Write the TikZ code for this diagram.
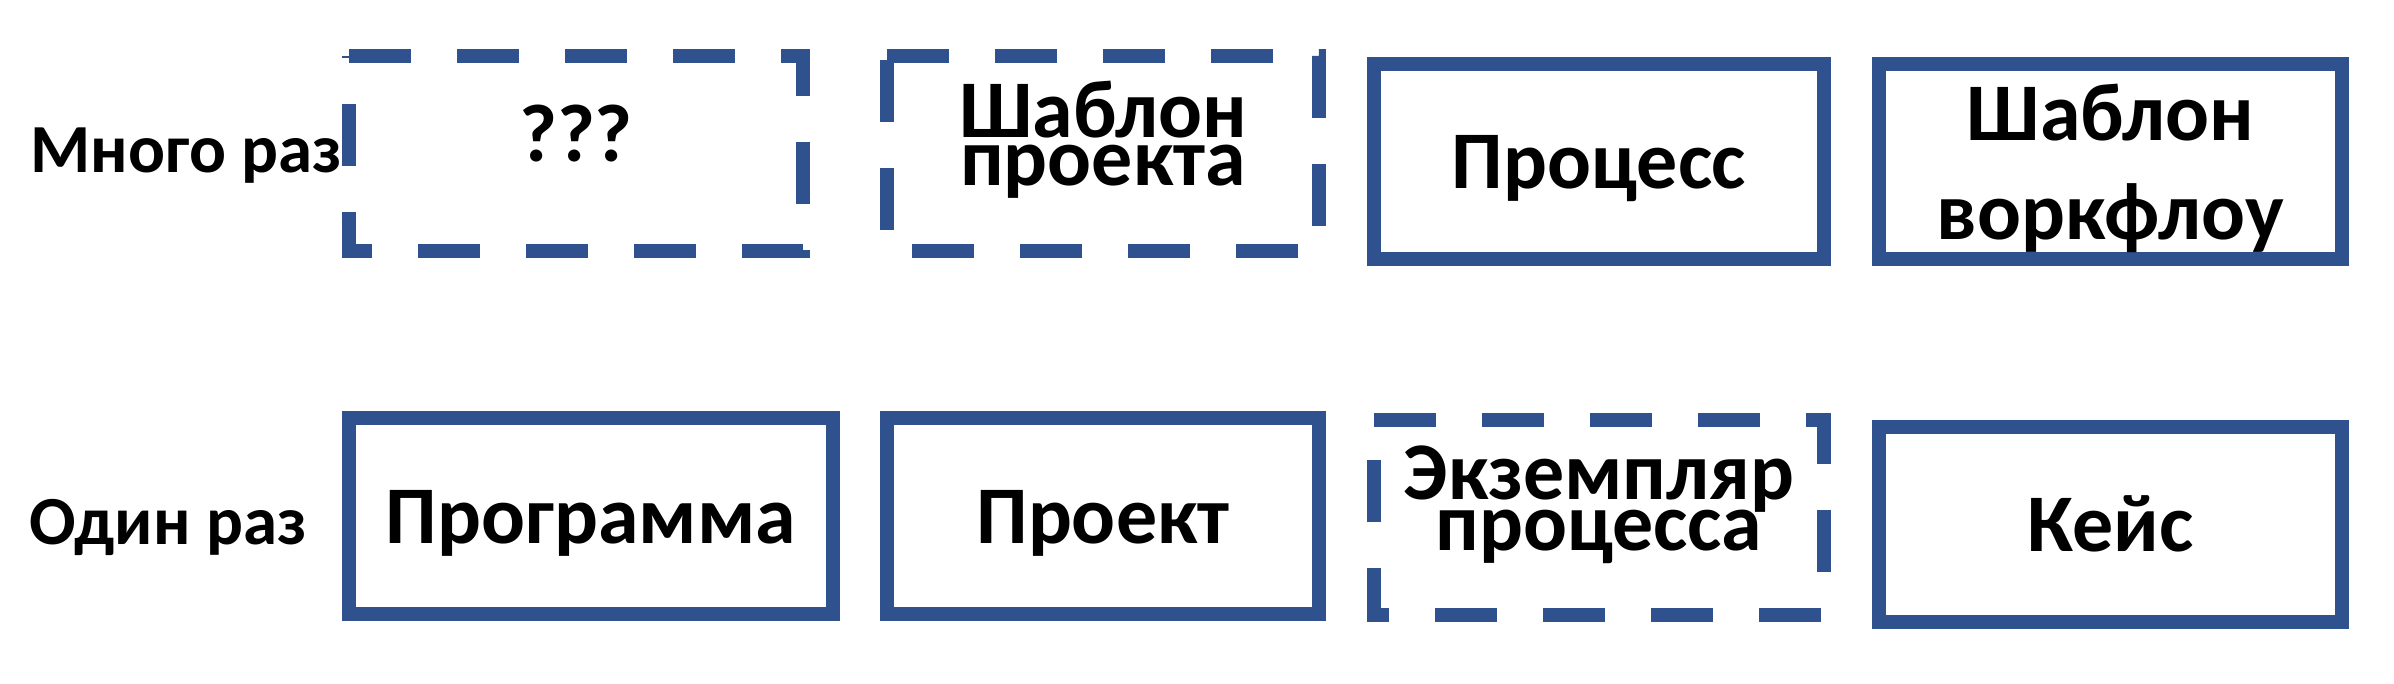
\documentclass[tikz,border=0pt]{standalone}
\usepackage{fontspec}
\setmainfont{Carlito}
\definecolor{boxblue}{RGB}{47,82,143}
\newcommand\bxfont[1]{\bfseries\fontsize{23.3}{#1}\selectfont\lineskiplimit=-1cm}
\tikzset{
    blk/.style={minimum width=#1, minimum height=1.95cm, inner sep=0pt, outer sep=0pt,
        align=center, font=\bxfont{28pt}},
    solidline/.style={draw=boxblue, line width=0.14cm},
    dashline/.style={draw=boxblue, line width=0.14cm, dash pattern=on 0.62cm off 0.46cm},
    rowlabel/.style={anchor=base west, inner sep=0pt, font=\bfseries\fontsize{19.6}{24}\selectfont}
}
\begin{document}
\begin{tikzpicture}
    \useasboundingbox (0,0) rectangle (23.94,6.83);
    % upper row
    \node[rowlabel] (many) at (0.30,5.11) {Много раз};
        \node[blk=4.54cm, text height=0.16cm, text depth=0pt] (unknown) at (5.76,5.30) {???};
        \draw[dashline] (unknown.north west) -- (unknown.north east) -- (unknown.south east) -- (unknown.south west) -- cycle;
        \node[blk=4.32cm, font=\bxfont{13.4pt}, text height=0.64cm, text depth=0pt] (projtpl) at (11.03,5.30) {Шаблон\\проекта};
        \draw[dashline] (projtpl.north west) -- (projtpl.north east) -- (projtpl.south east) -- (projtpl.south west) -- cycle;
        \node[blk=4.50cm, solidline, text height=0.54cm, text depth=0pt] (process) at (15.99,5.22) {Процесс};
        \node[blk=4.63cm, solidline, text height=1.56cm, text depth=0pt] (wftpl) at (21.105,5.22) {Шаблон\\воркфлоу};
    % lower row
    \node[rowlabel] (once) at (0.29,1.39) {Один раз};
        \node[blk=4.84cm, minimum height=1.96cm, solidline, text height=0.54cm, text depth=0pt] (program) at (5.91,1.67) {Программа};
        \node[blk=4.32cm, minimum height=1.96cm, solidline, text height=0.54cm, text depth=0pt] (project) at (11.03,1.67) {Проект};
        \node[blk=4.50cm, font=\bxfont{14.5pt}, text height=0.65cm, text depth=0pt] (procinst) at (15.99,1.655) {Экземпляр\\процесса};
        \draw[dashline] (procinst.north west) -- (procinst.north east) -- (procinst.south east) -- (procinst.south west) -- cycle;
        \node[blk=4.63cm, solidline, text height=0.54cm, text depth=0pt] (case) at (21.105,1.585) {Кейс};
\end{tikzpicture}
\end{document}
